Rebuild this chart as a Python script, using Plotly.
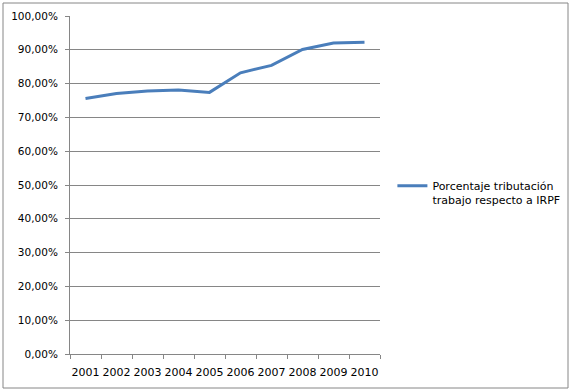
import plotly.graph_objects as go

years = ["2001", "2002", "2003", "2004", "2005", "2006", "2007", "2008", "2009", "2010"]
values = [0.756, 0.771, 0.778, 0.781, 0.774, 0.832, 0.854, 0.901, 0.920, 0.922]
series_name = "Porcentaje tributación<br>trabajo respecto a IRPF"

fig = go.Figure()
fig.add_trace(go.Scatter(
    x=years, y=values, mode="lines", name=series_name,
    line=dict(color="#4A7EBB", width=3),
))

W, H = 572, 391
L, R, T, B = 70, 192, 16, 37
pw, ph = W - L - R, H - T - B

def px(xp):
    return (xp - L) / pw

def py(yp):
    return (H - B - yp) / ph

fig.update_layout(
    width=W, height=H,
    margin=dict(l=L, r=R, t=T, b=B, autoexpand=False),
    paper_bgcolor="white", plot_bgcolor="white",
    separators=",.",
    font=dict(family="DejaVu Sans", size=10.5, color="black"),
    showlegend=True,
    legend=dict(x=1.04, y=0.476, yanchor="middle", xanchor="left", valign="top",
                font=dict(size=11), itemwidth=30, bgcolor="rgba(0,0,0,0)"),
    xaxis=dict(
        type="category", range=[-0.5, len(years) - 0.5], automargin=False,
        showgrid=False, showline=True, linecolor="#868686",
        ticks="outside", tickson="boundaries", ticklen=4, tickcolor="#868686",
        tickangle=0, tickfont=dict(size=11), ticklabelstandoff=8,
        zeroline=False, fixedrange=True,
    ),
    yaxis=dict(
        range=[0, 1], tickformat=".2%", dtick=0.1, automargin=False,
        showgrid=True, gridcolor="#868686", gridwidth=1,
        showline=True, linecolor="#868686",
        ticks="outside", ticklen=4, tickcolor="#868686", ticklabelstandoff=5,
        zeroline=False, fixedrange=True,
    ),
    shapes=[dict(
        type="rect", xref="paper", yref="paper",
        x0=px(3), x1=px(568), y0=py(388), y1=py(3),
        line=dict(color="#868686", width=1), fillcolor="rgba(0,0,0,0)", layer="below",
    )],
)

fig.write_html("out.html", post_script="document.body.style.margin='0';",
               config={"displayModeBar": False})
